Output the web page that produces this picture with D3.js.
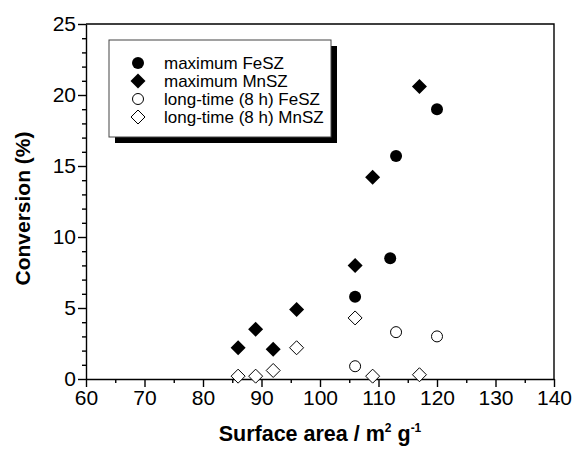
<!DOCTYPE html>
<html>
<head>
<meta charset="utf-8">
<script src="https://cdn.jsdelivr.net/npm/d3@7"></script>
<style>
  body { margin: 0; background: #fff; }
  svg { display: block; font-family: Arial, "Liberation Sans", sans-serif; }
</style>
</head>
<body>
<div id="chart"></div>
<script>
// data
const maxFeSZ = [[106, 5.8], [112, 8.5], [113, 15.7], [120, 19.0]];
const maxMnSZ = [[86, 2.2], [89, 3.5], [92, 2.1], [96, 4.9], [106, 8.0], [109, 14.2], [117, 20.6]];
const longFeSZ = [[106, 0.9], [113, 3.3], [120, 3.0]];
const longMnSZ = [[86, 0.2], [89, 0.2], [92, 0.6], [96, 2.2], [106, 4.3], [109, 0.2], [117, 0.3]];
const seriesNames = ["maximum FeSZ", "maximum MnSZ", "long-time (8 h) FeSZ", "long-time (8 h) MnSZ"];
const xTicks = [60, 70, 80, 90, 100, 110, 120, 130, 140];
const yTicks = [0, 5, 10, 15, 20, 25];

const width = 576, height = 459;
const margin = { top: 24, right: 22, bottom: 80, left: 86 };

const svg = d3.select("#chart").append("svg")
    .attr("width", width)
    .attr("height", height);

const x = d3.scaleLinear().domain([60, 140]).range([margin.left, width - margin.right]);
const y = d3.scaleLinear().domain([0, 25]).range([height - margin.bottom, margin.top]);

// series definitions: shape + fill
const series = [
    { name: seriesNames[0], data: maxFeSZ, shape: "circle", filled: true },
    { name: seriesNames[1], data: maxMnSZ, shape: "diamond", filled: true },
    { name: seriesNames[2], data: longFeSZ, shape: "circle", filled: false },
    { name: seriesNames[3], data: longMnSZ, shape: "diamond", filled: false }
];

function markerPath(shape, filled) {
    if (shape === "circle") {
        const r = filled ? 6 : 5.5;
        return d3.symbol().type(d3.symbolCircle).size(Math.PI * r * r)();
    }
    const h = filled ? 7.5 : 7;
    return `M0,${-h}L${h},0L0,${h}L${-h},0Z`;
}

// minor ticks
const yMinor = d3.range(0, 26, 1).filter(v => v % 5 !== 0);
const xMinor = d3.range(65, 140, 10);

svg.append("g")
    .attr("transform", `translate(0,${y(0)})`)
    .call(d3.axisBottom(x).tickValues(xTicks).tickSize(8).tickPadding(3).tickSizeOuter(0));
svg.append("g")
    .attr("transform", `translate(0,${y(0)})`)
    .call(d3.axisBottom(x).tickValues(xMinor).tickSize(4).tickFormat("").tickSizeOuter(0))
    .call(g => g.select(".domain").remove());

svg.append("g")
    .attr("transform", `translate(${x(60)},0)`)
    .call(d3.axisLeft(y).tickValues(yTicks).tickSize(8).tickPadding(2).tickSizeOuter(0));
svg.append("g")
    .attr("transform", `translate(${x(60)},0)`)
    .call(d3.axisLeft(y).tickValues(yMinor).tickSize(4).tickFormat("").tickSizeOuter(0))
    .call(g => g.select(".domain").remove());

svg.selectAll(".tick text")
    .attr("font-size", 21)
    .attr("font-family", "Arial, 'Liberation Sans', sans-serif")
    .attr("fill", "#000");
svg.selectAll(".tick line, .domain")
    .attr("stroke", "#000")
    .attr("stroke-width", 1.4);

// frame top and right
svg.append("path")
    .attr("d", `M${x(60)},${y(25)}H${x(140)}V${y(0)}`)
    .attr("fill", "none")
    .attr("stroke", "#000")
    .attr("stroke-width", 1.4);

// axis titles
svg.append("text")
    .attr("transform", `translate(30,${(y(0) + y(25)) / 2 + 7}) rotate(-90)`)
    .attr("text-anchor", "middle")
    .attr("font-size", 21)
    .attr("font-weight", "bold")
    .text("Conversion (%)");

const xt = svg.append("text")
    .attr("x", (x(60) + x(140)) / 2)
    .attr("y", 441)
    .attr("text-anchor", "middle")
    .attr("font-size", 21.5)
    .attr("font-weight", "bold");
xt.append("tspan").text("Surface area / m");
xt.append("tspan").attr("font-size", 12).attr("dy", -9).text("2");
xt.append("tspan").attr("dy", 9).text(" g");
xt.append("tspan").attr("font-size", 12).attr("dy", -9).text("-1");

// points
series.forEach(s => {
    svg.append("g").selectAll("path")
        .data(s.data)
        .join("path")
        .attr("transform", d => `translate(${x(d[0])},${y(d[1])})`)
        .attr("d", markerPath(s.shape, s.filled))
        .attr("fill", s.filled ? "#000" : "#fff")
        .attr("stroke", "#000")
        .attr("stroke-width", s.filled ? 0 : 1);
});

// legend with drop shadow
const lg = svg.append("g").attr("transform", "translate(109,40)");
const lw = 222, lh = 97;
lg.append("rect").attr("x", 6).attr("y", 6).attr("width", lw).attr("height", lh).attr("fill", "#000");
lg.append("rect").attr("width", lw).attr("height", lh)
    .attr("fill", "#fff").attr("stroke", "#444").attr("stroke-width", 1);

const rows = lg.selectAll(".row")
    .data(series)
    .join("g")
    .attr("class", "row")
    .attr("transform", (d, i) => `translate(29,${23 + i * 18})`);
rows.append("path")
    .attr("d", d => markerPath(d.shape, d.filled))
    .attr("fill", d => d.filled ? "#000" : "#fff")
    .attr("stroke", "#000")
    .attr("stroke-width", d => d.filled ? 0 : 1);
rows.append("text")
    .attr("x", 26)
    .attr("dy", "0.35em")
    .attr("font-size", 17)
    .text(d => d.name);
</script>
</body>
</html>
